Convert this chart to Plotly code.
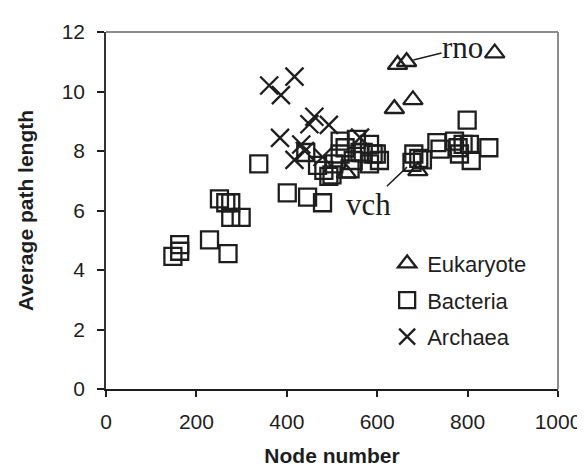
import plotly.graph_objects as go

# ---- data ----
euk_x = [532, 638, 645, 665, 679, 690, 860]
euk_y = [7.25, 9.42, 10.9, 11.0, 9.72, 7.33, 11.29]

bac_x = [148, 163, 163, 229, 270, 251, 265, 276, 276, 299, 338, 401, 446, 479,
         442, 468, 482, 493, 504, 518, 529, 518, 540, 547, 554, 562, 569, 583,
         583, 591, 598, 605, 500,
         677, 681, 692, 700, 732, 739, 771, 779, 790, 804, 782, 808, 847, 799]
bac_y = [4.46, 4.63, 4.85, 5.01, 4.55, 6.39, 6.26, 6.26, 5.77, 5.77, 7.57, 6.59, 6.45, 6.26,
         7.95, 7.52, 7.35, 7.15, 7.57, 8.33, 8.11, 7.90, 7.40, 7.68, 8.39, 7.95, 7.95, 8.22,
         7.57, 7.90, 7.90, 7.68, 7.20,
         7.62, 7.90, 7.75, 7.70, 8.28, 8.06, 8.33, 8.11, 8.22, 8.22, 7.90, 7.68, 8.11, 9.04]

arc_x = [361, 387, 417, 385, 461, 450, 493, 432, 417, 479, 562, 440]
arc_y = [10.2, 9.88, 10.5, 8.44, 9.15, 8.9, 8.88, 8.22, 7.7, 7.8, 8.45, 8.0]

labels = [("rno", "euk", 3), ("vch", "bac", 33)]

series = {
    "euk": ("Eukaryote", euk_x, euk_y, "triangle-up-open", 17),
    "bac": ("Bacteria", bac_x, bac_y, "square-open", 17),
    "arc": ("Archaea", arc_x, arc_y, "x-thin-open", 18),
}

INK = "#1e1e1e"
fig = go.Figure()
for key in ["euk", "bac", "arc"]:
    name, xs, ys, sym, sz = series[key]
    fig.add_trace(go.Scatter(
        x=xs, y=ys, mode="markers", name=name, legendgroup=key,
        marker=dict(symbol=sym, size=sz, color=INK,
                    line=dict(color=INK, width=2.3)),
    ))

offsets = {"rno": (56, -14), "vch": (-44, 42)}
for text, key, idx in labels:
    _, xs, ys, _, _ = series[key]
    ax, ay = offsets[text]
    fig.add_annotation(
        x=xs[idx], y=ys[idx], text=text, showarrow=True, arrowhead=0,
        arrowwidth=1.5, arrowcolor=INK, ax=ax, ay=ay, standoff=7,
        font=dict(family="Liberation Serif", size=31, color=INK),
        borderpad=0,
    )

tickfont = dict(family="Liberation Sans", size=21, color=INK)
titlefont = dict(family="Liberation Sans", size=21, color=INK, weight="bold")

fig.update_layout(
    width=585, height=468,
    margin=dict(l=98, r=26, t=21, b=80),
    paper_bgcolor="white", plot_bgcolor="white",
    showlegend=True,
    legend=dict(x=0.622, y=0.41, xanchor="left", yanchor="top",
                bgcolor="rgba(0,0,0,0)", tracegroupgap=5,
                font=dict(family="Liberation Sans", size=22, color=INK)),
    xaxis=dict(range=[0, 1000], dtick=200, showgrid=False, zeroline=False,
               showline=True, linecolor=INK, linewidth=1.5,
               ticks="outside", ticklen=6, tickcolor=INK, tickwidth=1.5,
               tickfont=tickfont, ticklabelstandoff=7,
               title=dict(text="Node number", font=titlefont, standoff=16)),
    yaxis=dict(range=[0, 12], dtick=2, showgrid=False, zeroline=False,
               showline=True, linecolor="#333333", linewidth=1.5,
               ticks="outside", ticklen=7, tickcolor=INK, tickwidth=1.5,
               tickfont=tickfont, ticklabelstandoff=8,
               title=dict(text="Average path length", font=titlefont, standoff=22)),
    shapes=[
        dict(type="line", xref="paper", yref="paper", x0=0, y0=1, x1=1, y1=1,
             line=dict(color="#8c8c8c", width=2)),
        dict(type="line", xref="paper", yref="paper", x0=1, y0=0, x1=1, y1=1,
             line=dict(color="#8c8c8c", width=2)),
    ],
)

fig.write_html("out.html")
